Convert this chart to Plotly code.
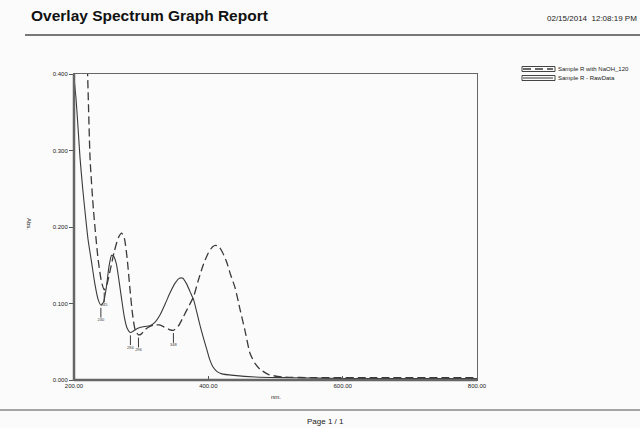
import plotly.graph_objects as go

# ---- data ----
raw_nm = [200, 203, 206, 209, 213, 217, 221, 226, 231, 236, 240, 244, 248, 252, 256, 259,
          263, 267, 271, 275, 279, 284, 290, 296, 305, 313, 320, 328, 336, 343, 350, 357,
          362, 368, 374, 378, 383, 388, 393, 398, 402, 407, 413, 420, 438, 470, 520, 600,
          700, 800]
raw_abs = [0.395, 0.368, 0.330, 0.290, 0.250, 0.215, 0.183, 0.155, 0.126, 0.105, 0.098, 0.102,
           0.120, 0.148, 0.163, 0.162, 0.152, 0.130, 0.105, 0.082, 0.068, 0.062, 0.065, 0.068,
           0.070, 0.071, 0.075, 0.085, 0.100, 0.114, 0.126, 0.133, 0.133, 0.125, 0.113, 0.105,
           0.088, 0.070, 0.054, 0.039, 0.027, 0.017, 0.011, 0.008, 0.006, 0.004, 0.003, 0.002,
           0.002, 0.002]

naoh_nm = [216, 220, 224, 229, 236, 241, 245, 249, 254, 260, 266, 271, 275, 279, 283, 287,
           291, 296, 300, 306, 313, 320, 327, 335, 342, 348, 355, 363, 370, 378, 385, 393,
           400, 406, 411, 416, 421, 427, 433, 440, 447, 455, 462, 470, 477, 490, 510, 560,
           650, 800]
naoh_abs = [0.470, 0.405, 0.288, 0.222, 0.157, 0.128, 0.118, 0.125, 0.144, 0.168, 0.186,
            0.192, 0.185, 0.160, 0.122, 0.087, 0.066, 0.059, 0.060, 0.066, 0.070, 0.072,
            0.072, 0.069, 0.066, 0.065, 0.070, 0.083, 0.095, 0.109, 0.130, 0.152, 0.166,
            0.174, 0.176, 0.174, 0.167, 0.155, 0.138, 0.120, 0.093, 0.063, 0.035, 0.021,
            0.014, 0.007, 0.004, 0.003, 0.003, 0.003]

# valley picks (nm, abs)
pick_nm = [240, 284, 245, 296, 348]
pick_abs = [0.098, 0.062, 0.118, 0.059, 0.065]
pick_lbl = ["240", "284", "245", "296", "348"]

series_names = ["Sample R with NaOH_120", "Sample R - RawData"]
x_ticks = [200, 400, 600, 800]
y_ticks = [0.0, 0.1, 0.2, 0.3, 0.4]

# ---- layout geometry (pixels) ----
W, H = 640, 428
L, R, T, B = 74, 477, 74, 380


def px(x):
    return (x - L) / (R - L)


def py(y):
    return (B - y) / (B - T)


FONT = "Liberation Sans, Arial, sans-serif"
LINE = "#3a3a3a"

fig = go.Figure()
fig.add_trace(go.Scatter(x=naoh_nm, y=naoh_abs, mode="lines", name=series_names[0],
                         legend="legend",
                         line=dict(color=LINE, width=1.3, dash="8px,4px", shape="spline",
                                   smoothing=0.6)))
fig.add_trace(go.Scatter(x=raw_nm, y=raw_abs, mode="lines", name=series_names[1],
                         legend="legend2",
                         line=dict(color=LINE, width=1.1, shape="spline", smoothing=0.6)))
fig.add_trace(go.Scatter(x=pick_nm, y=[v - 0.010 for v in pick_abs], mode="markers+text",
                         showlegend=False, text=pick_lbl, textposition="bottom center",
                         textfont=dict(size=4, color=LINE, family=FONT),
                         marker=dict(symbol="line-ns", size=7,
                                     line=dict(color=LINE, width=1)),
                         hoverinfo="skip"))

axis_common = dict(showgrid=False, zeroline=False, showline=True, linecolor="#666",
                   linewidth=1, mirror=True, ticklen=4, tickcolor="#555",
                   tickfont=dict(size=6, family=FONT, color="#222"))
fig.update_xaxes(range=[200, 800], tickvals=x_ticks, tickformat=".2f", ticks="inside",
                 **axis_common)
fig.update_yaxes(range=[0, 0.4], tickvals=y_ticks, tickformat=".3f", ticks="outside",
                 **axis_common)

row1, row2 = 69, 78
shapes = [
    # thicker left and bottom axes
    dict(type="line", xref="paper", yref="paper", x0=0, x1=0, y0=0, y1=1,
         line=dict(color="#666", width=2.5)),
    dict(type="line", xref="paper", yref="paper", x0=0, x1=1, y0=0, y1=0,
         line=dict(color="#666", width=2.5)),
    # header / footer rules
    dict(type="line", xref="paper", yref="paper", x0=px(25), x1=px(640), y0=py(35), y1=py(35),
         line=dict(color="#777", width=2)),
    dict(type="line", xref="paper", yref="paper", x0=px(0), x1=px(640), y0=py(410), y1=py(410),
         line=dict(color="#888", width=1.5)),
    # legend swatch frames
    dict(type="rect", xref="paper", yref="paper", x0=px(522), x1=px(555),
         y0=py(row1 - 2.5), y1=py(row1 + 2.5), line=dict(color="#444", width=1)),
    dict(type="rect", xref="paper", yref="paper", x0=px(522), x1=px(555),
         y0=py(row2 - 2.5), y1=py(row2 + 2.5), line=dict(color="#444", width=1)),
]

annotations = [
    dict(text="<b>Overlay Spectrum Graph Report</b>", x=px(29), y=py(15), xanchor="left",
         yanchor="middle", font=dict(size=15.5, family=FONT, color="#111")),
    dict(text="02/15/2014  12:08:19 PM", x=px(639), y=py(19), xanchor="right",
         yanchor="middle", font=dict(size=8, family=FONT, color="#222")),
    dict(text="Abs.", x=px(29), y=py(224), textangle=90, xanchor="center", yanchor="middle",
         font=dict(size=6, family=FONT, color="#222")),
    dict(text="nm.", x=px(276), y=py(397), xanchor="center", yanchor="middle",
         font=dict(size=6, family=FONT, color="#222")),
    dict(text="Page 1 / 1", x=px(325), y=py(421), xanchor="center", yanchor="middle",
         font=dict(size=8, family=FONT, color="#222")),
]
for a in annotations:
    a.update(xref="paper", yref="paper", showarrow=False)

leg_common = dict(xanchor="left", yanchor="middle", font=dict(size=6, family=FONT, color="#222"),
                  itemwidth=30, bgcolor="rgba(0,0,0,0)", borderwidth=0)

fig.update_layout(
    width=W, height=H,
    margin=dict(l=L, r=W - R, t=T, b=H - B, autoexpand=False),
    paper_bgcolor="#fbfbfb", plot_bgcolor="#fbfbfb",
    shapes=shapes, annotations=annotations,
    showlegend=True,
    legend=dict(x=px(518), y=py(row1), **leg_common),
    legend2=dict(x=px(518), y=py(row2), **leg_common),
)

fig.write_html("out.html")
